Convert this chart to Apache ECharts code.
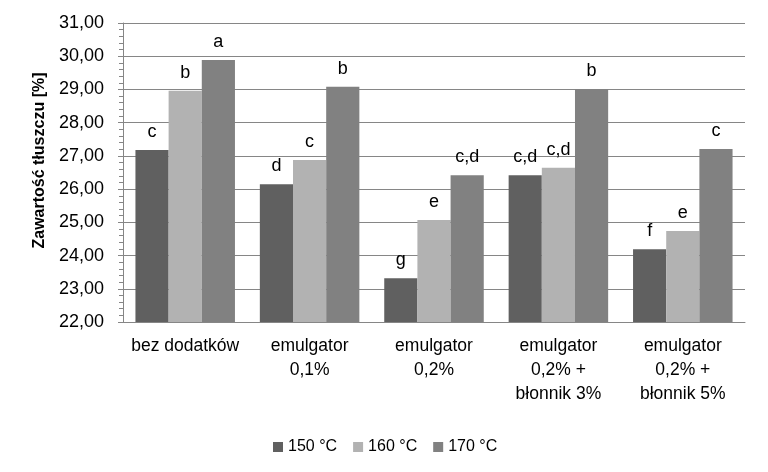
<!DOCTYPE html>
<html><head><meta charset="utf-8">
<script src="https://cdn.jsdelivr.net/npm/echarts@6/dist/echarts.min.js"></script>
<style>html,body{margin:0;padding:0;background:#fff}#c{width:768px;height:472px}</style>
</head><body><div id="c"></div>
<script>
const categories = ["bez dodatków", "emulgator\n0,1%", "emulgator\n0,2%", "emulgator\n0,2% +\nbłonnik 3%", "emulgator\n0,2% +\nbłonnik 5%"];
const seriesNames = ["150 °C", "160 °C", "170 °C"];
const values150 = [27.18, 26.15, 23.32, 26.42, 24.19];
const values160 = [28.96, 26.88, 25.07, 26.64, 24.74];
const values170 = [29.89, 29.08, 26.42, 29.01, 27.21];
const letters150 = ["c", "d", "g", "c,d", "f"];
const letters160 = ["b", "c", "e", "c,d", "e"];
const letters170 = ["a", "b", "c,d", "b", "c"];
const yTicks = [22, 23, 24, 25, 26, 27, 28, 29, 30, 31];

const colors = ["#606060", "#b2b2b2", "#818181"];
const FONT = "Liberation Sans";
function mk(i, vals, letters) {
  return {
    name: seriesNames[i], type: "bar", data: vals, barGap: "0%", barCategoryGap: "20%",
    itemStyle: { color: colors[i] },
    label: { show: true, position: "top", distance: 9, color: "#000", fontSize: 18, fontFamily: FONT,
      formatter: p => letters[p.dataIndex] }
  };
}
const chart = echarts.init(document.getElementById("c"), null, { renderer: "canvas" });
chart.setOption({
  animation: false,
  backgroundColor: "#fff",
  textStyle: { fontFamily: FONT },
  grid: { left: 123, right: 23, top: 23, bottom: 150, containLabel: false },
  legend: {
    data: seriesNames, left: 268, top: 434, itemWidth: 10, itemHeight: 10, itemGap: 16, icon: "rect",
    textStyle: { fontSize: 16, color: "#000", fontFamily: FONT }
  },
  xAxis: {
    type: "category", data: categories,
    axisLine: { lineStyle: { color: "#868686", width: 1 } },
    axisTick: { show: false },
    axisLabel: { color: "#000", fontSize: 17.5, fontFamily: FONT, lineHeight: 24, margin: 12, interval: 0 }
  },
  yAxis: {
    type: "value", min: yTicks[0], max: yTicks[yTicks.length - 1], interval: 1,
    name: "Zawartość tłuszczu [%]", nameLocation: "middle", nameGap: 75,
    nameTextStyle: { fontWeight: "bold", fontSize: 16, color: "#000", fontFamily: FONT, padding: [0, 0, 0, 24] },
    axisLine: { show: true, lineStyle: { color: "#868686" } },
    axisTick: { show: true, length: 5, lineStyle: { color: "#868686" } },
    minorTick: { show: true, splitNumber: 5, length: 4, lineStyle: { color: "#868686" } },
    splitLine: { lineStyle: { color: "#868686", width: 1 } },
    axisLabel: { color: "#000", fontSize: 18, fontFamily: FONT, margin: 19,
      formatter: v => v.toFixed(2).replace(".", ",") }
  },
  series: [mk(0, values150, letters150), mk(1, values160, letters160), mk(2, values170, letters170)]
});
</script></body></html>
